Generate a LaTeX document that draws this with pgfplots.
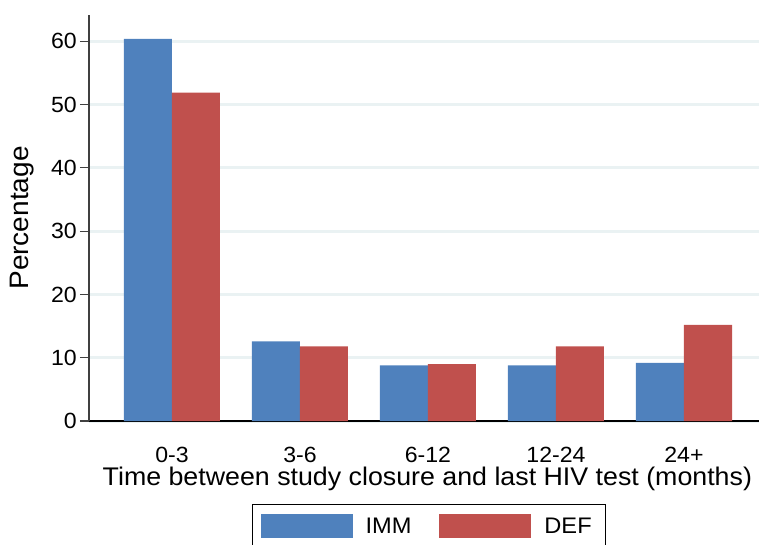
\documentclass[border=0pt]{standalone}
\usepackage{pgfplots}
\pgfplotsset{compat=1.18}
\usepackage{fontspec}
\setmainfont{Liberation Sans}[FakeStretch=1.05]
\definecolor{immblue}{RGB}{79,129,189}
\definecolor{defred}{RGB}{192,80,77}
\definecolor{gridc}{RGB}{234,242,243}
\definecolor{axc}{RGB}{64,64,64}
\begin{document}
\begin{tikzpicture}
\begin{axis}[
  scale only axis,
  width=670pt, height=406pt,
  xmin=-0.648, xmax=4.586,
  ymin=0, ymax=64.16,
  ybar=0pt, bar width=0.375,
  xtick={0,1,2,3,4},
  xticklabels={0-3,3-6,6-12,12-24,24+},
  ytick={0,10,20,30,40,50,60},
  axis x line*=bottom, axis y line*=left,
  axis line style={axc, line width=1.5pt, -},
  x axis line style={draw=black},
  major x tick style={draw=none},
  major y tick style={axc, line width=1.2pt},
  tick align=outside, major tick length=9pt,
  ymajorgrids, grid style={gridc, line width=3pt},
  /pgf/number format/assume math mode=true,
  tick label style={font=\fontsize{22}{24}\selectfont},
  yticklabel style={inner xsep=3pt},
  xticklabel style={anchor=base, yshift=-32pt},
  ylabel={Percentage},
  xlabel={Time between study closure and last HIV test (months)},
  every axis y label/.style={at={(rel axis cs:-0.1,0.5)}, rotate=90, anchor=center, font=\fontsize{26.7}{28}\selectfont},
  every axis x label/.style={at={(rel axis cs:0.505,0)}, anchor=base, yshift=-64pt, font=\fontsize{25.5}{28}\selectfont},
  legend columns=2,
  legend style={at={(rel axis cs:0.2433,-0.2044)}, anchor=north west, draw=black, line width=1pt,
    font=\fontsize{22.5}{24}\selectfont, inner xsep=8pt, inner ysep=10pt,
    nodes={inner xsep=6pt, inner ysep=0pt},
    /tikz/every odd column/.append style={column sep=7pt},
    /tikz/every even column/.append style={column sep=22pt}},
  legend image code/.code={\fill[#1,draw=none] (0pt,-12pt) rectangle (92pt,12pt);},
  clip=false,
]
\addplot[fill=immblue, draw=none] coordinates {(0,60.4) (1,12.6) (2,8.8) (3,8.8) (4,9.2)};
\addplot[fill=defred, draw=none] coordinates {(0,51.9) (1,11.8) (2,9.0) (3,11.8) (4,15.2)};
\legend{IMM, DEF}
\coordinate (bl) at (rel axis cs:0,0);
\coordinate (tr) at (rel axis cs:1,1);
\end{axis}
\pgfresetboundingbox
\path ([xshift=-89pt,yshift=-123pt]bl) rectangle ([yshift=15pt]tr);
\end{tikzpicture}
\end{document}
